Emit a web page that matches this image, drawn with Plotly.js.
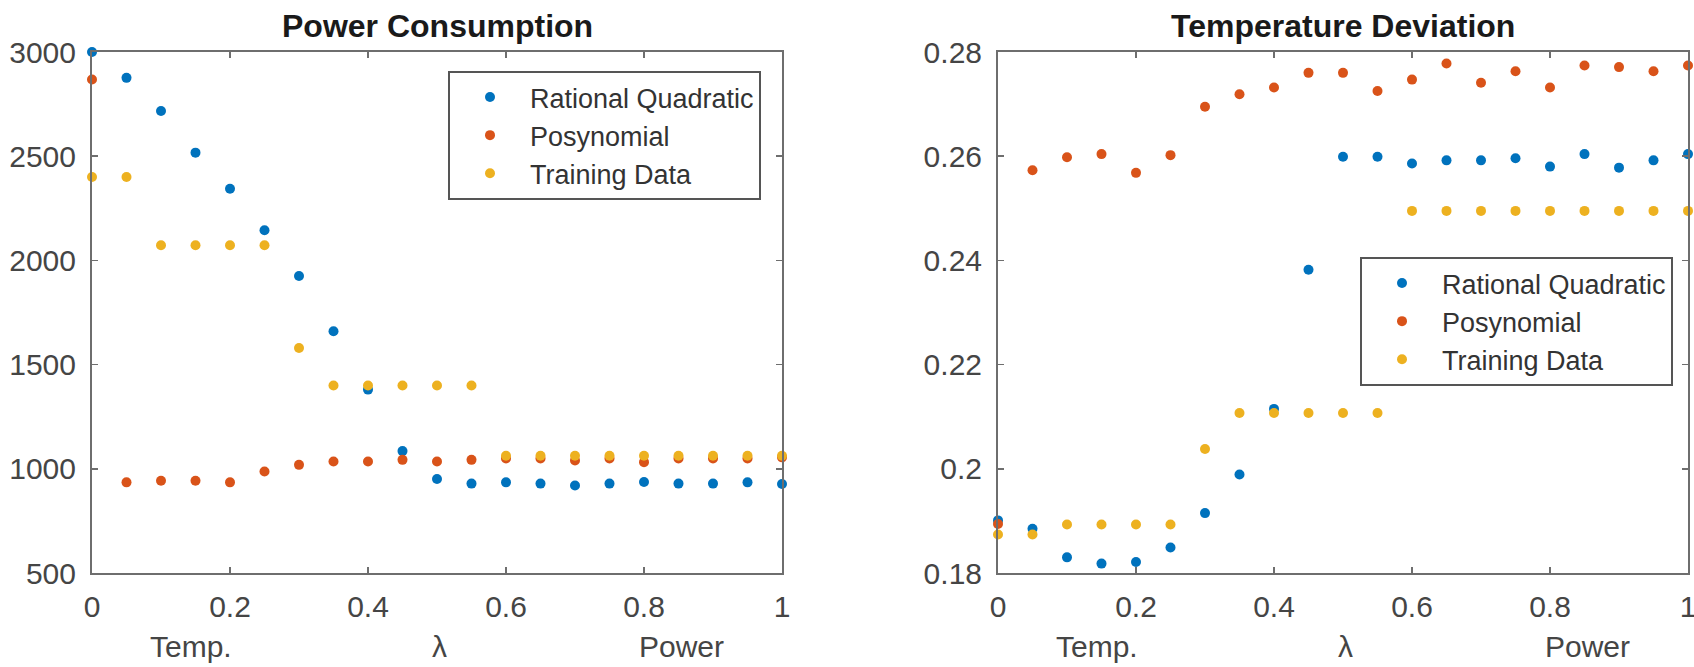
<!DOCTYPE html>
<html>
<head>
<meta charset="utf-8">
<script src="https://cdn.plot.ly/plotly-3.0.1.min.js"></script>
<style>
  html, body { margin: 0; padding: 0; background: #ffffff; }
  #chart { width: 1694px; height: 667px; }
</style>
</head>
<body>
<div id="chart"></div>
<script>
// ---- data ----
const lambdaValues = [0, 0.05, 0.1, 0.15, 0.2, 0.25, 0.3, 0.35, 0.4, 0.45, 0.5, 0.55, 0.6, 0.65, 0.7, 0.75, 0.8, 0.85, 0.9, 0.95, 1];
const seriesNames = ["Rational Quadratic", "Posynomial", "Training Data"];
const panelTitles = ["Power Consumption", "Temperature Deviation"];
const axisWords = ["Temp.", "\u03bb", "Power"];

const powerRQ    = [3000, 2876, 2717, 2517, 2344, 2145, 1925, 1660, 1380, 1085, 951, 929, 935, 929, 920, 929, 937, 929, 929, 935, 927];
const powerPosy  = [2868, 935, 943, 943, 935, 987, 1019, 1035, 1035, 1043, 1035, 1043, 1050, 1050, 1040, 1050, 1032, 1050, 1050, 1050, 1055];
const powerTrain = [2400, 2400, 2073, 2073, 2073, 2073, 1580, 1400, 1400, 1400, 1400, 1400, 1063, 1063, 1063, 1063, 1063, 1063, 1063, 1063, 1063];

const tempRQ    = [0.1901, 0.1885, 0.1830, 0.1818, 0.1821, 0.1849, 0.1915, 0.1989, 0.2115, 0.2382, 0.2599, 0.2599, 0.2586, 0.2592, 0.2592, 0.2596, 0.2580, 0.2604, 0.2578, 0.2592, 0.2604];
const tempPosy  = [0.1894, 0.2573, 0.2598, 0.2604, 0.2568, 0.2602, 0.2695, 0.2719, 0.2732, 0.2760, 0.2760, 0.2725, 0.2747, 0.2778, 0.2741, 0.2763, 0.2732, 0.2774, 0.2771, 0.2763, 0.2774];
const tempTrain = [0.1874, 0.1874, 0.1893, 0.1893, 0.1893, 0.1893, 0.2038, 0.2107, 0.2107, 0.2107, 0.2107, 0.2107, 0.2495, 0.2495, 0.2495, 0.2495, 0.2495, 0.2495, 0.2495, 0.2495, 0.2495];

const xTickVals = [0, 0.2, 0.4, 0.6, 0.8, 1];
const xTickText = ["0", "0.2", "0.4", "0.6", "0.8", "1"];
const powerTickVals = [500, 1000, 1500, 2000, 2500, 3000];
const tempTickVals = [0.18, 0.2, 0.22, 0.24, 0.26, 0.28];
const tempTickText = ["0.18", "0.2", "0.22", "0.24", "0.26", "0.28"];

// ---- styles ----
const colors = ["#0072BD", "#D95319", "#EDB120"];
const FONT = "'Liberation Sans', Arial, Helvetica, sans-serif";
const W = 1694, H = 667;
const yTop = 52, yBot = 573;
const leftDom = [92 / W, 782 / W];
const rightDom = [998 / W, 1688 / W];
const yDom = [1 - yBot / H, 1 - yTop / H];

function mk(xv, yv, i, xa, ya, legend) {
  return {
    type: "scatter", mode: "markers", x: xv, y: yv, name: seriesNames[i],
    xaxis: xa, yaxis: ya, legend: legend, cliponaxis: false,
    marker: { color: colors[i], size: 10 }, hoverinfo: "x+y"
  };
}

const traces = [
  mk(lambdaValues, powerRQ, 0, "x", "y", "legend"),
  mk(lambdaValues, powerPosy, 1, "x", "y", "legend"),
  mk(lambdaValues, powerTrain, 2, "x", "y", "legend"),
  mk(lambdaValues, tempRQ, 0, "x2", "y2", "legend2"),
  mk(lambdaValues, tempPosy, 1, "x2", "y2", "legend2"),
  mk(lambdaValues, tempTrain, 2, "x2", "y2", "legend2")
];

const axisLine = "#6e6e6e";
const tickFont = { family: FONT, size: 30, color: "#454545" };

function xAxis(dom, anchor) {
  return {
    domain: dom, anchor: anchor, range: [0, 1], tickvals: xTickVals, ticktext: xTickText,
    ticks: "inside", ticklen: 6, tickwidth: 1.5, tickcolor: axisLine,
    showline: true, linecolor: axisLine, linewidth: 2, mirror: "ticks",
    showgrid: false, zeroline: false, tickfont: tickFont, ticklabelstandoff: 6,
    ticklabeloverflow: "allow", fixedrange: true
  };
}
function yAxis(dom, anchor, range, vals, text) {
  const a = {
    domain: dom, anchor: anchor, range: range, tickvals: vals,
    ticks: "inside", ticklen: 6, tickwidth: 1.5, tickcolor: axisLine,
    showline: true, linecolor: axisLine, linewidth: 2, mirror: "ticks",
    showgrid: false, zeroline: false, tickfont: tickFont, ticklabelstandoff: 8,
    ticklabeloverflow: "allow", fixedrange: true
  };
  if (text) a.ticktext = text;
  return a;
}

const annotations = [];
const titleCenters = [(leftDom[0] + leftDom[1]) / 2, (rightDom[0] + rightDom[1]) / 2];
panelTitles.forEach((t, i) => {
  annotations.push({
    xref: "paper", yref: "paper", x: titleCenters[i], y: 1 - 26 / H,
    xanchor: "center", yanchor: "middle", showarrow: false, text: "<b>" + t + "</b>",
    font: { family: FONT, size: 32, color: "#1a1a1a" }
  });
});
const wordPos = [0.143, 0.504, 0.855];
["x", "x2"].forEach(xr => {
  axisWords.forEach((w, j) => {
    annotations.push({
      xref: xr, yref: "paper", x: wordPos[j], y: 1 - 646 / H,
      xanchor: "center", yanchor: "middle", showarrow: false, text: w,
      font: { family: FONT, size: 30, color: "#454545" }
    });
  });
});

const legendStyle = {
  bgcolor: "#ffffff", bordercolor: "#555555", borderwidth: 2,
  font: { family: FONT, size: 27, color: "#333333" },
  xanchor: "left", yanchor: "top", tracegroupgap: 0, itemwidth: 70
};

const layout = {
  width: W, height: H,
  margin: { l: 0, r: 0, t: 0, b: 0 },
  paper_bgcolor: "#ffffff", plot_bgcolor: "#ffffff",
  showlegend: true,
  xaxis: xAxis(leftDom, "y"),
  yaxis: yAxis(yDom, "x", [500, 3000], powerTickVals, null),
  xaxis2: xAxis(rightDom, "y2"),
  yaxis2: yAxis(yDom, "x2", [0.18, 0.28], tempTickVals, tempTickText),
  legend: Object.assign({}, legendStyle, { x: 448 / W, y: 1 - 71 / H }),
  legend2: Object.assign({}, legendStyle, { x: 1360 / W, y: 1 - 257 / H }),
  annotations: annotations
};

Plotly.newPlot("chart", traces, layout, { displayModeBar: false, staticPlot: true });
</script>
</body>
</html>
